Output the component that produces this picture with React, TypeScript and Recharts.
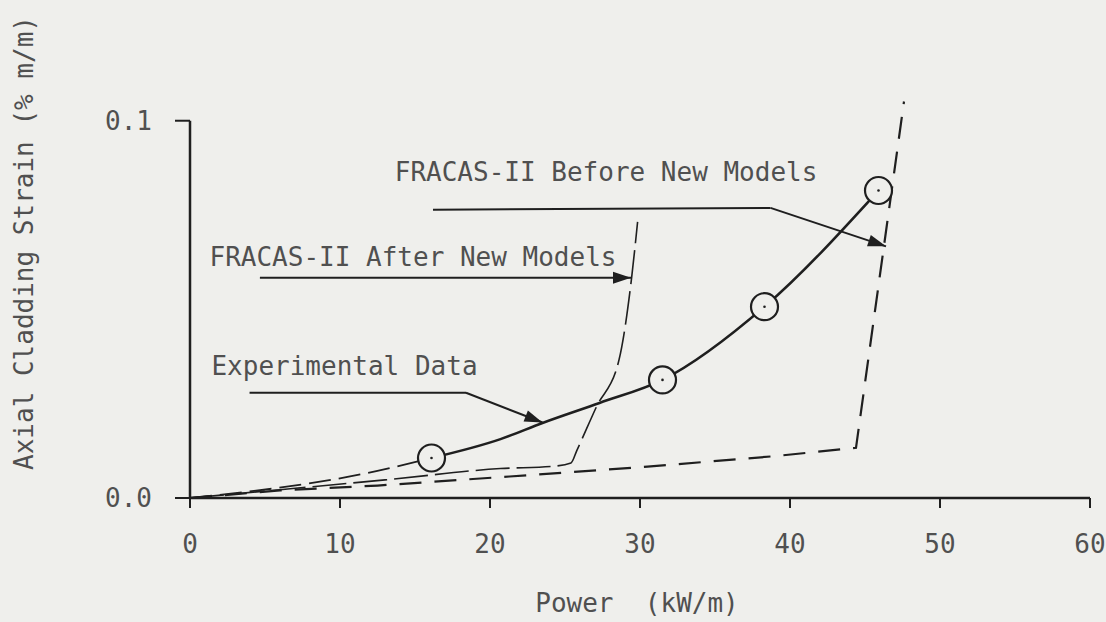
import { ComposedChart, Line, Scatter, XAxis, YAxis, ReferenceLine, ReferenceDot, Label } from 'recharts';

const BG = '#efefec';
const INK = '#1f1f1f';
const TEXT = '#505050';
const FONT = '"DejaVu Sans Mono", "Liberation Mono", monospace';

// experimental data points (circles)
const expPower = [16.1, 31.5, 38.3, 45.9];
const expStrain = [0.0106, 0.0313, 0.0507, 0.0815];

// curve drawn through the data (solid part)
const fitPower = [16.1, 20.7, 23.5, 27.3, 31.5, 38.3, 45.9];
const fitStrain = [0.0106, 0.0156, 0.0199, 0.0252, 0.0313, 0.0507, 0.0815];

// dashed extension of the curve back to the origin
const extPower = [0, 11.8, 16.1];
const extStrain = [0, 0.0066, 0.0106];

// FRACAS-II before new models
const beforePower = [0, 6, 12.5, 21.3, 30.5, 39, 44.4, 47.6];
const beforeStrain = [0, 0.002, 0.0033, 0.0057, 0.0083, 0.0111, 0.0133, 0.1051];

// FRACAS-II after new models
const afterPower = [0, 6, 13, 20.7, 24.2, 25.4, 25.8, 27.1, 28.6, 29.45, 29.84];
const afterStrain = [0, 0.0022, 0.0048, 0.0078, 0.0084, 0.0093, 0.0127, 0.0242, 0.0366, 0.0587, 0.0732];

const xTicks = [0, 10, 20, 30, 40, 50, 60];
const yTicks = [0, 0.1];

const toPoints = (xs: number[], ys: number[]) => xs.map((x, i) => ({ x, y: ys[i] }));

const expData = toPoints(expPower, expStrain);
const fitData = toPoints(fitPower, fitStrain);
const extData = toPoints(extPower, extStrain);
const beforeData = toPoints(beforePower, beforeStrain);
const afterData = toPoints(afterPower, afterStrain);

// callouts: text anchor and leader path, in data units
const notes = [
    { text: 'FRACAS-II Before New Models', x: 13.65, y: 0.0841, path: [[16.2, 0.0764], [38.7, 0.0769], [46.4, 0.0667]] },
    { text: 'FRACAS-II After New Models', x: 1.3, y: 0.0615, path: [[4.66, 0.0584], [29.4, 0.0584]] },
    { text: 'Experimental Data', x: 1.43, y: 0.0326, path: [[3.97, 0.0279], [18.4, 0.0279], [23.5, 0.02]] },
];

const Leader = ({ x1, y1, x2, y2, arrow }: any) => {
    const dx = x2 - x1;
    const dy = y2 - y1;
    const len = Math.sqrt(dx * dx + dy * dy) || 1;
    const ux = dx / len;
    const uy = dy / len;
    const L = 18;
    const W = 6;
    const bx = x2 - ux * L;
    const by = y2 - uy * L;
    return (
        <g>
            <line x1={x1} y1={y1} x2={x2} y2={y2} stroke={INK} strokeWidth={2} />
            {arrow && (
                <polygon
                    points={`${x2},${y2} ${bx - uy * W},${by + ux * W} ${bx + uy * W},${by - ux * W}`}
                    fill={INK}
                />
            )}
        </g>
    );
};

const DataCircle = ({ cx, cy }: any) => (
    <g>
        <circle cx={cx} cy={cy} r={13.5} fill={BG} stroke={INK} strokeWidth={2.2} />
        <circle cx={cx} cy={cy} r={1.3} fill={INK} />
    </g>
);

export default function App() {
    return (
        <div style={{ position: 'absolute', left: 0, top: 0, width: 1106, height: 622, background: BG }}>
            <ComposedChart width={1106} height={622} margin={{ top: 83, right: 16, bottom: 0, left: 0 }}>
                <XAxis
                    dataKey="x"
                    type="number"
                    domain={[0, 60]}
                    ticks={xTicks}
                    interval={0}
                    height={124}
                    tickSize={10}
                    tickMargin={27}
                    axisLine={{ stroke: INK, strokeWidth: 2.5 }}
                    tickLine={{ stroke: INK, strokeWidth: 2 }}
                    tick={{ fill: TEXT, fontSize: 26, fontFamily: FONT }}
                >
                    <Label
                        content={({ viewBox }: any) => (
                            <text
                                x={viewBox.x + viewBox.width / 2 - 3}
                                y={viewBox.y + 114}
                                textAnchor="middle"
                                fill={TEXT}
                                fontSize={26}
                                fontFamily={FONT}
                                style={{ whiteSpace: 'pre' }}
                            >
                                {'Power  (kW/m)'}
                            </text>
                        )}
                    />
                </XAxis>
                <YAxis
                    dataKey="y"
                    type="number"
                    domain={[0, 0.11]}
                    ticks={yTicks}
                    interval={0}
                    width={190}
                    tickSize={15}
                    tickMargin={23}
                    axisLine={false}
                    tickLine={{ stroke: INK, strokeWidth: 2 }}
                    tickFormatter={(v: number) => v.toFixed(1)}
                    tick={{ fill: TEXT, fontSize: 26, fontFamily: FONT }}
                >
                    <Label
                        content={() => (
                            <text
                                transform="translate(33, 243) rotate(-90)"
                                textAnchor="middle"
                                fill={TEXT}
                                fontSize={26}
                                fontFamily={FONT}
                            >
                                Axial Cladding Strain (% m/m)
                            </text>
                        )}
                    />
                </YAxis>

                {/* y axis only runs up to 0.1 */}
                <ReferenceLine segment={[{ x: 0, y: 0 }, { x: 0, y: 0.1 }]} stroke={INK} strokeWidth={2.5} />

                <Line data={beforeData} dataKey="y" type="linear" stroke={INK} strokeWidth={2.2}
                    strokeDasharray="22 13" dot={false} isAnimationActive={false} />
                <Line data={afterData} dataKey="y" type="monotone" stroke={INK} strokeWidth={1.6}
                    strokeDasharray="34 7" dot={false} isAnimationActive={false} />
                <Line data={extData} dataKey="y" type="monotone" stroke={INK} strokeWidth={1.8}
                    strokeDasharray="22 8" dot={false} isAnimationActive={false} />
                <Line data={fitData} dataKey="y" type="monotone" stroke={INK} strokeWidth={2.6}
                    dot={false} isAnimationActive={false} />
                <Scatter data={expData} dataKey="y" shape={<DataCircle />} isAnimationActive={false} />

                {notes.map((n) => (
                    <ReferenceDot
                        key={n.text}
                        x={n.x}
                        y={n.y}
                        ifOverflow="visible"
                        shape={(p: any) => (
                            <text x={p.cx} y={p.cy} fill={TEXT} fontSize={26} fontFamily={FONT}>
                                {n.text}
                            </text>
                        )}
                    />
                ))}
                {notes.map((n) =>
                    n.path.slice(1).map((pt, i) => (
                        <ReferenceLine
                            key={n.text + i}
                            segment={[{ x: n.path[i][0], y: n.path[i][1] }, { x: pt[0], y: pt[1] }]}
                            ifOverflow="visible"
                            shape={(p: any) => <Leader {...p} arrow={i === n.path.length - 2} />}
                        />
                    ))
                )}
            </ComposedChart>
        </div>
    );
}
